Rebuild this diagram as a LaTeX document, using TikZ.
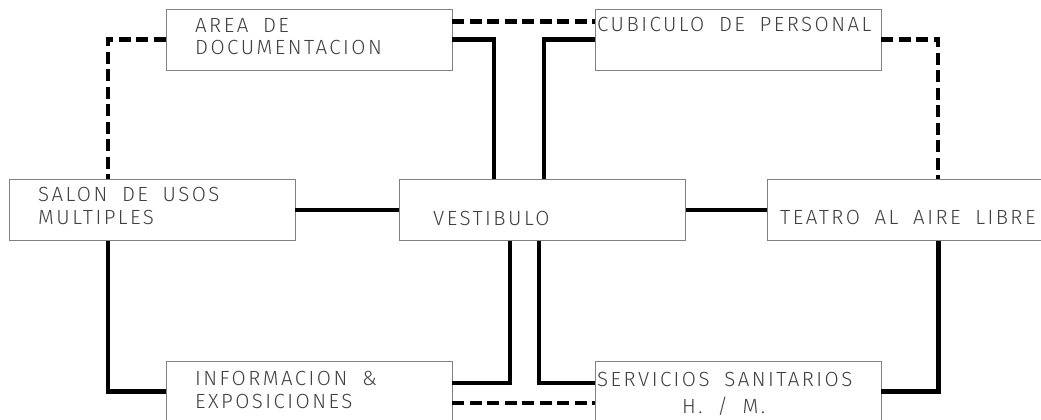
\documentclass[tikz,border=0pt]{standalone}
\usepackage{fontspec}
\setmainfont{Fira Sans}[UprightFont=* Light, LetterSpace=12, WordSpace=1.8]
\begin{document}
\begin{tikzpicture}[x=1pt,y=-1pt,
  room/.style={draw=black!50, line width=0.8pt, minimum width=286pt, minimum height=61pt, inner sep=0pt},
  lbl/.style={anchor=base west, inner sep=0pt, text=black!75, font=\fontsize{20.5}{22.5}\selectfont, align=left},
  solidlink/.style={line width=4.8pt, line join=miter},
  dashlink/.style={line width=4.8pt, dash pattern=on 12pt off 5.5pt, line join=miter}]
\clip (0,0) rectangle (1041,420);
\fill[white] (0,0) rectangle (1041,420);
% rooms
\node[room] (area) at (309,39.5) {};
\node[room] (cub) at (738,39.5) {};
\node[room] (salon) at (152,210) {};
\node[room] (vest) at (542.5,210) {};
\node[room] (teatro) at (910,210) {};
\node[room] (info) at (309,391.5) {};
\node[room] (serv) at (738,391.5) {};
% labels (base = last line)
\node[lbl] (tarea) at (195,55) {AREA DE\\DOCUMENTACION};
\node[lbl] (tcub) at (597,32) {CUBICULO DE PERSONAL};
\node[lbl] (tsalon) at (38,224) {SALON DE USOS\\MULTIPLES};
\node[lbl] (tvest) at (433,225) {VESTIBULO};
\node[lbl] (tteatro) at (780,224) {TEATRO AL AIRE LIBRE};
\node[lbl] (tinfo) at (195,408) {INFORMACION \&\\EXPOSICIONES};
\node[lbl] (tserv) at (597,386) {SERVICIOS SANITARIOS};
\node[lbl] (tserv2) at (682,413) {H. / M.};
% connectors
\draw[dashlink] ([yshift=18pt]area.east) -- ([yshift=18pt]cub.west);
\draw[dashlink] (area.west) -| ([xshift=-44pt]salon.north);
\draw[dashlink] (cub.east) -| ([xshift=28pt]teatro.north);
\draw[solidlink] (area.east) -| ([xshift=-48.5pt]vest.north);
\draw[solidlink] (cub.west) -| ([xshift=1.5pt]vest.north);
\draw[solidlink] (salon.east) -- (vest.west);
\draw[solidlink] (vest.east) -- (teatro.west);
\draw[solidlink] ([xshift=-44pt]salon.south) |- (info.west);
\draw[solidlink] ([xshift=-32.5pt]vest.south) |- ([yshift=8.5pt]info.east);
\draw[solidlink] ([xshift=-3.5pt]vest.south) |- ([yshift=8.5pt]serv.west);
\draw[solidlink] ([xshift=28.5pt]teatro.south) |- (serv.east);
\draw[dashlink] ([yshift=-11.5pt]info.east) -- ([yshift=-11.5pt]serv.west);
\end{tikzpicture}
\end{document}
